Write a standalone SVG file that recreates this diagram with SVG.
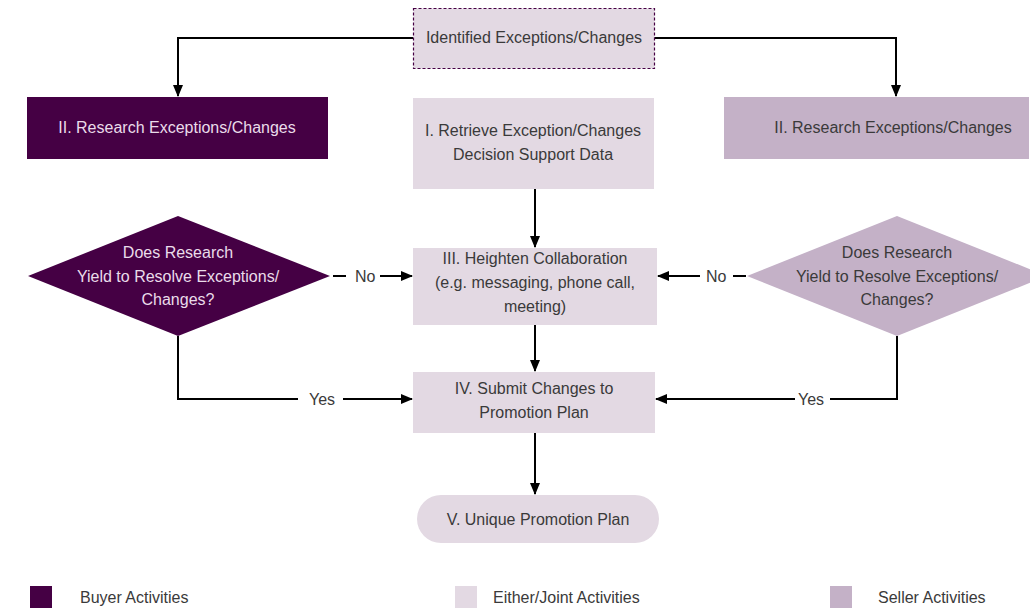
<svg xmlns="http://www.w3.org/2000/svg" width="1030" height="608" viewBox="0 0 1030 608">
  <style>
    text { font-family: "Liberation Sans", Arial, sans-serif; font-size: 16px; fill: #3a3a3a; text-anchor: middle; }
    .light { fill: #eadcea; }
    .lbl { text-anchor: start; }
    .buyer { fill: #450044; }
    .joint { fill: #e3d9e3; }
    .seller { fill: #c4b1c7; }
    .wire { fill: none; stroke: #000; stroke-width: 2; }
  </style>
  <defs>
    <marker id="ah" markerWidth="12" markerHeight="12" refX="11" refY="6" orient="auto" markerUnits="userSpaceOnUse">
      <path d="M0,1 L12,6 L0,11 Z" fill="#000"/>
    </marker>
  </defs>
  <rect width="1030" height="608" fill="#fff"/>

  <!-- connectors -->
  <g id="connectors">
    <path class="wire" d="M413,38 H178 V96" marker-end="url(#ah)"/>
    <path class="wire" d="M654,38 H896 V96" marker-end="url(#ah)"/>
    <path class="wire" d="M535,189 V247" marker-end="url(#ah)"/>
    <path class="wire" d="M535,325 V371" marker-end="url(#ah)"/>
    <path class="wire" d="M535,433 V494" marker-end="url(#ah)"/>
    <!-- buyer decision: No -->
    <path class="wire" d="M333,276 H346"/>
    <path class="wire" d="M380,276 H412" marker-end="url(#ah)"/>
    <text class="lbl" x="355" y="282">No</text>
    <!-- seller decision: No -->
    <path class="wire" d="M746,276 H733"/>
    <path class="wire" d="M700,276 H658" marker-end="url(#ah)"/>
    <text class="lbl" x="706" y="282">No</text>
    <!-- buyer decision: Yes -->
    <path class="wire" d="M178,336 V399 H298"/>
    <path class="wire" d="M343,399 H412" marker-end="url(#ah)"/>
    <text class="lbl" x="309" y="405">Yes</text>
    <!-- seller decision: Yes -->
    <path class="wire" d="M897,336 V399 H830"/>
    <path class="wire" d="M795,399 H656" marker-end="url(#ah)"/>
    <text class="lbl" x="798" y="405">Yes</text>
  </g>

  <g id="identified">
    <rect x="413.5" y="8.5" width="241" height="60" class="joint" stroke="#450044" stroke-width="1.2" stroke-dasharray="3,2"/>
    <text x="534" y="43">Identified Exceptions/Changes</text>
  </g>

  <g id="buyer-research">
    <rect x="27" y="97" width="301" height="62" class="buyer"/>
    <text class="light" x="177" y="133">II. Research Exceptions/Changes</text>
  </g>

  <g id="retrieve">
    <rect x="413" y="98" width="241" height="91" class="joint"/>
    <text x="533" y="136">I. Retrieve Exception/Changes</text>
    <text x="533" y="160">Decision Support Data</text>
  </g>

  <g id="seller-research">
    <rect x="724" y="97" width="305" height="62" class="seller"/>
    <text x="893" y="133">II. Research Exceptions/Changes</text>
  </g>

  <g id="buyer-decision">
    <polygon points="178,216 330,276 178,336 28,276" class="buyer"/>
    <text class="light" x="178" y="258">Does Research</text>
    <text class="light" x="178" y="282">Yield to Resolve Exceptions/</text>
    <text class="light" x="178" y="305">Changes?</text>
  </g>

  <g id="seller-decision">
    <polygon points="897,216 1047,276 897,336 747,276" class="seller"/>
    <text x="897" y="258">Does Research</text>
    <text x="897" y="282">Yield to Resolve Exceptions/</text>
    <text x="897" y="305">Changes?</text>
  </g>

  <g id="collaborate">
    <rect x="413" y="248" width="244" height="77" class="joint"/>
    <text x="535" y="264">III. Heighten Collaboration</text>
    <text x="535" y="288">(e.g. messaging, phone call,</text>
    <text x="535" y="312">meeting)</text>
  </g>

  <g id="submit">
    <rect x="413" y="372" width="242" height="61" class="joint"/>
    <text x="534" y="394">IV. Submit Changes to</text>
    <text x="534" y="418">Promotion Plan</text>
  </g>

  <g id="unique-plan">
    <rect x="417" y="495" width="242" height="48" rx="24" class="joint"/>
    <text x="538" y="525">V. Unique Promotion Plan</text>
  </g>

  <g id="legend">
    <rect x="30" y="586" width="22" height="22" class="buyer"/>
    <text class="lbl" x="80" y="603">Buyer Activities</text>
    <rect x="455" y="586" width="22" height="22" class="joint"/>
    <text class="lbl" x="493" y="603">Either/Joint Activities</text>
    <rect x="830" y="586" width="22" height="22" class="seller"/>
    <text class="lbl" x="878" y="603">Seller Activities</text>
  </g>
</svg>
